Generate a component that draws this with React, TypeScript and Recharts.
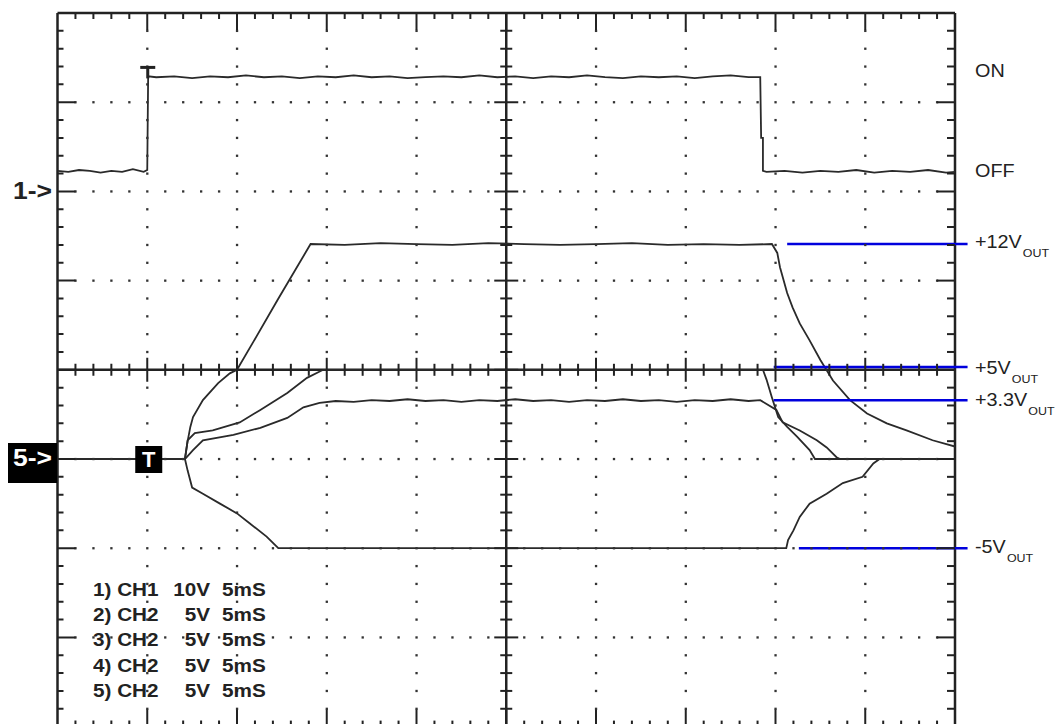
import React from 'react';
import { ComposedChart, Line, Scatter, XAxis, YAxis, ReferenceLine, ReferenceDot } from 'recharts';

// time in divisions (0..10), voltage in divisions (-4..4)
const ch1Trace: [number, number][] = [
  [0, 2.23], [0.12, 2.22], [0.24, 2.24], [0.36, 2.23], [0.48, 2.21], [0.6, 2.23], [0.72, 2.22], [0.84, 2.25], [0.96, 2.22], [1.0, 2.24],
  [1.01, 3.29], [1.1, 3.28], [1.3, 3.29], [1.5, 3.27], [1.7, 3.29], [1.9, 3.28], [2.1, 3.3], [2.3, 3.28], [2.5, 3.29], [2.7, 3.27],
  [2.9, 3.29], [3.1, 3.28], [3.3, 3.3], [3.5, 3.28], [3.7, 3.29], [3.9, 3.27], [4.1, 3.28], [4.3, 3.29], [4.5, 3.28], [4.7, 3.3],
  [4.9, 3.28], [5.1, 3.29], [5.3, 3.27], [5.5, 3.29], [5.7, 3.28], [5.9, 3.3], [6.1, 3.28], [6.3, 3.27], [6.5, 3.29], [6.7, 3.28],
  [6.9, 3.29], [7.1, 3.27], [7.3, 3.29], [7.5, 3.3], [7.7, 3.28], [7.83, 3.28], [7.84, 2.6], [7.86, 2.6], [7.86, 2.23],
  [7.9, 2.22], [8.1, 2.23], [8.3, 2.21], [8.5, 2.23], [8.7, 2.22], [8.9, 2.24], [9.1, 2.21], [9.3, 2.23], [9.5, 2.22], [9.7, 2.24], [9.9, 2.21], [10, 2.22],
];

const v12Trace: [number, number][] = [
  [0, -1], [1.42, -1], [1.45, -0.8], [1.48, -0.64], [1.51, -0.53], [1.62, -0.34], [1.79, -0.15], [1.92, -0.04], [2.0, 0],
  [2.18, 0.31], [2.45, 0.78], [2.82, 1.41], [3.2, 1.4], [3.6, 1.42], [4.0, 1.41], [4.4, 1.4], [4.8, 1.42], [5.2, 1.41],
  [5.6, 1.4], [6.0, 1.41], [6.4, 1.42], [6.8, 1.4], [7.2, 1.41], [7.6, 1.4], [7.96, 1.41], [8.02, 1.31], [8.05, 1.15],
  [8.13, 0.86], [8.19, 0.7], [8.27, 0.52], [8.38, 0.33], [8.5, 0.11], [8.64, -0.12], [8.83, -0.34], [9.02, -0.49],
  [9.24, -0.6], [9.46, -0.68], [9.75, -0.79], [10, -0.86],
];

const v5Trace: [number, number][] = [
  [0, -1], [1.42, -1], [1.45, -0.79], [1.53, -0.71], [1.73, -0.68], [2.03, -0.59], [2.26, -0.45], [2.56, -0.26],
  [2.78, -0.09], [2.96, 0], [7.86, 0], [7.9, -0.11], [7.96, -0.31], [8.03, -0.53], [8.13, -0.64], [8.24, -0.75],
  [8.38, -0.9], [8.44, -1], [10, -1],
];

const v33Trace: [number, number][] = [
  [0, -1], [1.42, -1], [1.51, -0.9], [1.62, -0.79], [1.96, -0.73], [2.26, -0.65], [2.56, -0.54], [2.74, -0.42], [2.92, -0.37],
  [3.1, -0.35], [3.3, -0.36], [3.5, -0.34], [3.7, -0.35], [3.9, -0.33], [4.1, -0.35], [4.3, -0.34], [4.5, -0.36], [4.7, -0.34],
  [4.9, -0.35], [5.1, -0.33], [5.3, -0.35], [5.5, -0.34], [5.7, -0.36], [5.9, -0.34], [6.1, -0.35], [6.3, -0.33], [6.5, -0.35],
  [6.7, -0.34], [6.9, -0.36], [7.1, -0.34], [7.3, -0.35], [7.5, -0.33], [7.7, -0.35], [7.83, -0.34], [8.01, -0.45],
  [8.08, -0.59], [8.27, -0.68], [8.46, -0.79], [8.57, -0.87], [8.68, -0.98], [8.72, -1], [10, -1],
];

const vNeg5Trace: [number, number][] = [
  [0, -1], [1.42, -1], [1.45, -1.13], [1.5, -1.32], [1.62, -1.39], [1.81, -1.5], [2.0, -1.61], [2.14, -1.72], [2.33, -1.87],
  [2.46, -2.0], [8.12, -2.0], [8.14, -1.91], [8.2, -1.8], [8.27, -1.65], [8.38, -1.5], [8.57, -1.39], [8.75, -1.27],
  [8.97, -1.2], [9.09, -1.05], [9.16, -1], [10, -1],
];

// marker lines for output levels: [level, start time]
const outputMarkers: { level: number; from: number }[] = [
  { level: 1.41, from: 8.13 },
  { level: 0.03, from: 7.98 },
  { level: -0.34, from: 7.98 },
  { level: -2.0, from: 8.26 },
];
const markerEnd = 10.14;

const legendRows: [string, string, string][] = [
  ['1) CH1', '10V', '5mS'],
  ['2) CH2', '5V', '5mS'],
  ['3) CH2', '5V', '5mS'],
  ['4) CH2', '5V', '5mS'],
  ['5) CH2', '5V', '5mS'],
];

const toPts = (a: [number, number][]) => a.map(([t, v]) => ({ t, v }));

// graticule layout
const xMinor = Array.from({ length: 51 }, (_, i) => Math.round(i * 2) / 10);
const yMinor = Array.from({ length: 41 }, (_, i) => Math.round(-40 + i * 2) / 10);
const isMajor = (n: number) => Math.abs(n - Math.round(n)) < 1e-6;

const gridDots: { t: number; v: number }[] = [];
[1, 2, 3, 4, 6, 7, 8, 9].forEach((x) => yMinor.filter((y) => Math.abs(y) < 4 && Math.abs(y) > 1e-6).forEach((y) => gridDots.push({ t: x, v: y })));
[-3, -2, -1, 1, 2, 3].forEach((y) => xMinor.filter((x) => x > 0 && x < 10 && !isMajor(x)).forEach((x) => gridDots.push({ t: x, v: y })));

const centerHTicks = xMinor.filter((x) => x > 0 && x < 10).map((t) => ({ t, v: 0 }));
const centerVTicks = yMinor.filter((y) => y > -4 && y < 4).map((v) => ({ t: 5, v }));
const topTicks = xMinor.filter((x) => x > 0 && x < 10).map((t) => ({ t, v: 4 }));
const bottomTicks = xMinor.filter((x) => x > 0 && x < 10).map((t) => ({ t, v: -4 }));
const leftTicks = yMinor.filter((y) => y > -4 && y < 4).map((v) => ({ t: 0, v }));
const rightTicks = yMinor.filter((y) => y > -4 && y < 4).map((v) => ({ t: 10, v }));

const INK = '#222';
const TRACE = '#2a2a2a';
const BLUE = '#0000dd';

const dotShape = (p: any) => <rect x={p.cx - 1.1} y={p.cy - 1.1} width={2.3} height={2.3} fill="#333" />;
const vCross = (p: any) => {
  const l = isMajor(p.payload.t) ? 12 : 6;
  return <line x1={p.cx} x2={p.cx} y1={p.cy - l} y2={p.cy + l} stroke={INK} strokeWidth={2} />;
};
const hCross = (p: any) => {
  const l = isMajor(p.payload.v) ? 12 : 6;
  return <line x1={p.cx - l} x2={p.cx + l} y1={p.cy} y2={p.cy} stroke={INK} strokeWidth={2} />;
};
const downTick = (p: any) => {
  const l = isMajor(p.payload.t) ? 17 : 6;
  return <line x1={p.cx} x2={p.cx} y1={p.cy} y2={p.cy + l} stroke={INK} strokeWidth={2} />;
};
const upTick = (p: any) => {
  const l = isMajor(p.payload.t) ? 17 : 6;
  return <line x1={p.cx} x2={p.cx} y1={p.cy} y2={p.cy - l} stroke={INK} strokeWidth={2} />;
};
const rightTick = (p: any) => {
  const l = isMajor(p.payload.v) ? 18 : 6;
  return <line x1={p.cx} x2={p.cx + l} y1={p.cy} y2={p.cy} stroke={INK} strokeWidth={2} />;
};
const leftTick = (p: any) => {
  const l = isMajor(p.payload.v) ? 18 : 8;
  return <line x1={p.cx} x2={p.cx - l} y1={p.cy} y2={p.cy} stroke={INK} strokeWidth={2} />;
};

const labelFont = '"Liberation Sans", Arial, Helvetica, sans-serif';

const RightLabel = ({ top, main, sub }: { top: number; main: string; sub?: string }) => (
  <div
    style={{
      position: 'absolute', left: 975, top: top - 10, height: 20, lineHeight: '20px', fontSize: 17.5,
      fontFamily: labelFont, color: INK, whiteSpace: 'nowrap', transform: 'scaleX(1.13)', transformOrigin: 'left center',
    }}
  >
    {main}
    {sub && <span style={{ fontSize: 11, position: 'relative', top: 9, marginLeft: 1 }}>{sub}</span>}
  </div>
);

export default function App() {
  return (
    <div style={{ position: 'fixed', left: 0, top: 0, width: 1060, height: 724, overflow: 'hidden', background: '#fff' }}>
      <ComposedChart width={1060} height={740} margin={{ top: 13, right: 105, bottom: 13.4, left: 57.5 }}>
        <XAxis type="number" dataKey="t" domain={[0, 10]} hide allowDataOverflow />
        <YAxis type="number" dataKey="v" domain={[-4, 4]} hide allowDataOverflow />

        <Scatter data={gridDots} dataKey="v" shape={dotShape} isAnimationActive={false} />
        <ReferenceLine y={0} stroke={INK} strokeWidth={2.5} />
        <ReferenceLine x={5} stroke={INK} strokeWidth={2.5} />
        <ReferenceLine x={0} stroke={INK} strokeWidth={2.5} />
        <ReferenceLine x={10} stroke={INK} strokeWidth={2.5} />
        <ReferenceLine y={4} stroke={INK} strokeWidth={2.5} />
        <ReferenceLine y={-4} stroke={INK} strokeWidth={2.5} />
        <Scatter data={centerHTicks} dataKey="v" shape={vCross} isAnimationActive={false} />
        <Scatter data={centerVTicks} dataKey="v" shape={hCross} isAnimationActive={false} />
        <Scatter data={topTicks} dataKey="v" shape={downTick} isAnimationActive={false} />
        <Scatter data={bottomTicks} dataKey="v" shape={upTick} isAnimationActive={false} />
        <Scatter data={leftTicks} dataKey="v" shape={rightTick} isAnimationActive={false} />
        <Scatter data={rightTicks} dataKey="v" shape={leftTick} isAnimationActive={false} />

        <Line data={toPts(ch1Trace)} dataKey="v" type="linear" dot={false} stroke={TRACE} strokeWidth={1.8} isAnimationActive={false} />
        <Line data={toPts(v12Trace)} dataKey="v" type="linear" dot={false} stroke={TRACE} strokeWidth={1.8} isAnimationActive={false} />
        <Line data={toPts(v5Trace)} dataKey="v" type="linear" dot={false} stroke={TRACE} strokeWidth={1.8} isAnimationActive={false} />
        <Line data={toPts(v33Trace)} dataKey="v" type="linear" dot={false} stroke={TRACE} strokeWidth={1.8} isAnimationActive={false} />
        <Line data={toPts(vNeg5Trace)} dataKey="v" type="linear" dot={false} stroke={TRACE} strokeWidth={1.8} isAnimationActive={false} />

        <ReferenceDot
          x={1.0}
          y={3.39}
          ifOverflow="visible"
          shape={(p: any) => (
            <g>
              <rect x={p.cx - 7} y={p.cy - 1.5} width={15} height={3} fill={INK} />
              <rect x={p.cx - 1} y={p.cy} width={3} height={11} fill={INK} />
            </g>
          )}
        />
        <ReferenceDot
          x={1.0}
          y={-1}
          ifOverflow="visible"
          shape={(p: any) => (
            <g>
              <rect x={p.cx - 12} y={p.cy - 13} width={27} height={27} fill="#000" />
              <text x={p.cx + 1.5} y={p.cy + 8} textAnchor="middle" fill="#fff" fontSize={22} fontWeight="bold" fontFamily={labelFont}>T</text>
            </g>
          )}
        />

        {outputMarkers.map((m, i) => (
          <ReferenceLine
            key={i}
            segment={[{ x: m.from, y: m.level }, { x: markerEnd, y: m.level }]}
            stroke={BLUE}
            strokeWidth={2.5}
            ifOverflow="visible"
          />
        ))}
      </ComposedChart>

      {/* channel reference markers */}
      <div style={{ position: 'absolute', left: 13, top: 178, height: 26, lineHeight: '26px', fontSize: 23, fontWeight: 'bold', fontFamily: labelFont, color: INK, transform: 'scaleX(1.15)', transformOrigin: 'left center' }}>1-&gt;</div>
      <div style={{ position: 'absolute', left: 8, top: 443, width: 49, height: 40, background: '#000' }} />
      <div style={{ position: 'absolute', left: 13, top: 445, height: 26, lineHeight: '26px', fontSize: 23, fontWeight: 'bold', fontFamily: labelFont, color: '#fff', transform: 'scaleX(1.15)', transformOrigin: 'left center' }}>5-&gt;</div>

      <RightLabel top={71} main="ON" />
      <RightLabel top={171} main="OFF" />
      <RightLabel top={241.5} main="+12V" sub="OUT" />
      <RightLabel top={367.5} main="+5V" sub="OUT" />
      <RightLabel top={399.5} main="+3.3V" sub="OUT" />
      <RightLabel top={546.5} main="-5V" sub="OUT" />

      {legendRows.map((r, i) => {
        const cy = 590 + i * 25.2;
        const base: React.CSSProperties = {
          position: 'absolute', top: cy - 11, height: 22, lineHeight: '22px', fontSize: 18, fontWeight: 'bold',
          fontFamily: labelFont, color: INK, whiteSpace: 'nowrap', transform: 'scaleX(1.15)',
        };
        return (
          <React.Fragment key={i}>
            <div style={{ ...base, left: 93, transformOrigin: 'left center' }}>{r[0]}</div>
            <div style={{ ...base, right: 1060 - 210, textAlign: 'right', transformOrigin: 'right center' }}>{r[1]}</div>
            <div style={{ ...base, left: 222, transformOrigin: 'left center' }}>{r[2]}</div>
          </React.Fragment>
        );
      })}
    </div>
  );
}
